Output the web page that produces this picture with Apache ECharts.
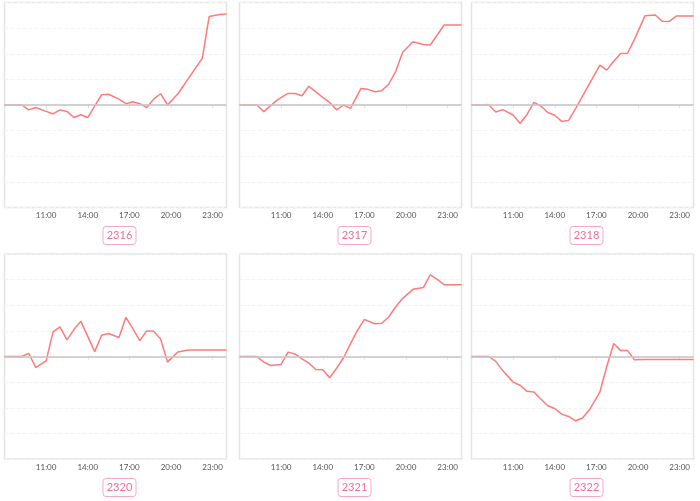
<!DOCTYPE html>
<html>
<head>
<meta charset="utf-8">
<script src="https://cdn.jsdelivr.net/npm/echarts@6/dist/echarts.min.js"></script>
<style>
html,body{margin:0;padding:0;background:#fff;}
#c{width:700px;height:501px;}
</style>
</head>
<body>
<div id="c"></div>
<script>
// Tick labels shown on the time axis
var tickLabels = ['11:00', '14:00', '17:00', '20:00', '23:00'];
// Chart titles
var names = ['2316', '2317', '2318', '2320', '2321', '2322'];

// Series (time of vertex, value in grid units)
var t2316 = ['08:00','09:15','09:45','10:15','11:00','11:30','12:00','12:30','13:00','13:30','14:00','15:00','15:30','16:15','16:45','17:15','17:45','18:15','18:45','19:15','19:45','20:30','22:15','22:45','23:30','24:00'];
var v2316 = [0,0,-0.19,-0.10,-0.25,-0.35,-0.19,-0.25,-0.49,-0.38,-0.49,0.40,0.42,0.23,0.05,0.13,0.05,-0.10,0.23,0.44,0,0.44,1.82,3.45,3.53,3.55];

var t2317 = ['08:00','09:15','09:45','10:45','11:30','12:00','12:30','13:00','13:30','14:00','14:30','15:00','15:30','16:00','16:45','17:15','17:45','18:15','18:45','19:15','19:45','20:30','21:15','21:45','22:45','24:00'];
var v2317 = [0,0,-0.26,0.21,0.45,0.45,0.36,0.73,0.51,0.30,0.10,-0.19,0,-0.13,0.64,0.61,0.52,0.56,0.81,1.30,2.05,2.47,2.36,2.34,3.12,3.12];

var t2318 = ['08:00','09:15','09:45','10:15','11:00','11:30','12:00','12:30','13:00','13:30','14:00','14:30','15:00','15:30','17:15','17:45','18:15','18:45','19:15','19:45','20:30','21:15','21:45','22:15','22:45','24:00'];
var v2318 = [0,0,-0.27,-0.18,-0.39,-0.72,-0.37,0.10,-0.04,-0.29,-0.40,-0.64,-0.60,-0.14,1.56,1.36,1.71,2.01,2.02,2.57,3.48,3.51,3.27,3.26,3.47,3.47];

var t2320 = ['08:00','09:15','09:45','10:15','11:00','11:30','12:00','12:30','13:00','13:30','14:30','15:00','15:30','16:15','16:45','17:15','17:45','18:15','18:45','19:15','19:45','20:30','21:15','24:00'];
var v2320 = [0,0,0.12,-0.43,-0.17,0.96,1.16,0.65,1.05,1.38,0.19,0.83,0.90,0.74,1.53,1.09,0.62,1.00,0.99,0.68,-0.22,0.18,0.25,0.25];

var t2321 = ['08:00','09:15','09:45','10:15','11:00','11:30','12:00','12:30','13:00','13:30','14:00','14:30','15:00','15:30','16:00','16:30','17:00','17:45','18:15','18:45','19:15','19:45','20:30','21:15','21:45','22:15','22:45','24:00'];
var v2321 = [0,0,-0.22,-0.35,-0.31,0.17,0.10,-0.09,-0.26,-0.51,-0.52,-0.83,-0.46,-0.05,0.50,1.02,1.45,1.28,1.30,1.54,1.93,2.26,2.62,2.69,3.19,3.01,2.80,2.80];

var t2322 = ['08:00','09:15','09:45','10:15','11:00','11:30','12:00','12:30','13:00','13:30','14:00','14:30','15:00','15:30','16:00','16:30','17:15','17:45','18:15','18:45','19:15','19:45','20:30','24:00'];
var v2322 = [0,0,-0.19,-0.55,-1.00,-1.12,-1.36,-1.39,-1.66,-1.92,-2.03,-2.25,-2.34,-2.51,-2.40,-2.08,-1.39,-0.39,0.51,0.23,0.23,-0.13,-0.12,-0.12];

var seriesTimes = [t2316, t2317, t2318, t2320, t2321, t2322];
var seriesVals = [v2316, v2317, v2318, v2320, v2321, v2322];

// Category axis: 08:00 .. 24:00 every 15 minutes
var categories = [];
for (var m = 8 * 60; m <= 24 * 60; m += 15) {
  var h = Math.floor(m / 60), mm = m % 60;
  categories.push((h < 10 ? '0' : '') + h + ':' + (mm < 10 ? '0' : '') + mm);
}

var chart = echarts.init(document.getElementById('c'), null, {renderer: 'canvas'});

var lefts = [4.5, 239.5, 471.5];
var tops = [2.5, 254];
var W = 222, H = 205;
var titleTops = [226, 478];

var grids = [], xAxes = [], yAxes = [], series = [], titles = [];
function showTick(idx, val) { return tickLabels.indexOf(val) >= 0; }

for (var i = 0; i < 6; i++) {
  var col = i % 3, row = Math.floor(i / 3);
  grids.push({
    left: lefts[col], top: tops[row], width: W, height: H,
    show: true, borderColor: '#e4e4e4', borderWidth: 1.5, backgroundColor: '#fff'
  });
  xAxes.push({
    type: 'category', gridIndex: i, data: categories, boundaryGap: false,
    axisLine: {show: true, lineStyle: {color: '#e4e4e4', width: 1.5}},
    axisTick: {show: true, interval: showTick, length: 3, lineStyle: {color: '#e0e0e0'}},
    axisLabel: {interval: showTick, fontSize: 8, color: '#555', margin: 4, fontFamily: 'Lato'},
    splitLine: {show: false}
  });
  yAxes.push({
    type: 'value', gridIndex: i, min: -4, max: 4, interval: 1,
    axisLine: {show: false}, axisTick: {show: false}, axisLabel: {show: false},
    splitLine: {show: true, lineStyle: {color: '#f3f3f3', type: 'dashed', width: 1}}
  });
  var times = seriesTimes[i], vals = seriesVals[i];
  series.push({
    type: 'line', xAxisIndex: i, yAxisIndex: i, name: names[i],
    data: times.map(function (t, k) { return [t, vals[k]]; }),
    showSymbol: false, symbol: 'none',
    lineStyle: {color: '#ff7a7a', width: 1.5},
    itemStyle: {color: '#ff7a7a'},
    markLine: {
      silent: true, symbol: 'none', label: {show: false},
      lineStyle: {color: '#c8c8c8', width: 1.5, type: 'solid'},
      data: [{yAxis: 0}]
    },
    z: 3
  });
  titles.push({
    text: names[i],
    left: lefts[col] + W / 2, top: titleTops[row], textAlign: 'center',
    padding: [4, 4],
    borderColor: '#f7a9c0', borderWidth: 1, borderRadius: 3,
    textStyle: {fontSize: 11, fontWeight: 'normal', color: '#ee6e96', fontFamily: 'Lato'}
  });
}

chart.setOption({
  animation: false,
  title: titles,
  grid: grids,
  xAxis: xAxes,
  yAxis: yAxes,
  series: series
});
</script>
</body>
</html>
